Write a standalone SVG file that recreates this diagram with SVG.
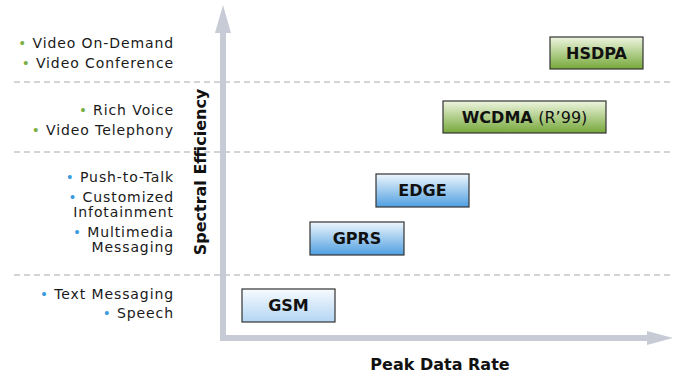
<svg xmlns="http://www.w3.org/2000/svg" width="674" height="377" viewBox="0 0 674 377">
  <style>
    .lbl { font-family: "DejaVu Sans", "Liberation Sans", sans-serif; font-size: 14px; letter-spacing: 0.9px; fill: #1a1a1a; text-anchor: end; }
    .dg { fill: #78b043; font-size: 13.5px; }
    .db { fill: #3b9be0; font-size: 13.5px; }
    .box { stroke: #333; stroke-width: 1.2; }
    .btxt { font-family: "DejaVu Sans", "Liberation Sans", sans-serif; font-size: 16px; font-weight: bold; fill: #111; text-anchor: middle; }
    .norm { font-weight: normal; }
    .axis-title { font-family: "DejaVu Sans", "Liberation Sans", sans-serif; font-size: 16px; font-weight: bold; fill: #111; text-anchor: middle; }
    .dash { stroke: #c3c6cc; stroke-width: 1.5; stroke-dasharray: 6 4; fill: none; }
    .axis { fill: #c6cbd6; }
  </style>
  <defs>
    <linearGradient id="green" x1="0" y1="0" x2="0" y2="1">
      <stop offset="0" stop-color="#eef5df"/>
      <stop offset="1" stop-color="#76a83a"/>
    </linearGradient>
    <linearGradient id="blue" x1="0" y1="0" x2="0" y2="1">
      <stop offset="0" stop-color="#eef6fd"/>
      <stop offset="1" stop-color="#4f9fe0"/>
    </linearGradient>
    <linearGradient id="paleblue" x1="0" y1="0" x2="0" y2="1">
      <stop offset="0" stop-color="#f7fbff"/>
      <stop offset="1" stop-color="#b3d5f3"/>
    </linearGradient>
  </defs>

  <!-- band separators -->
  <g id="separators">
    <line class="dash" x1="14" y1="82" x2="670" y2="82"/>
    <line class="dash" x1="14" y1="152" x2="670" y2="152"/>
    <line class="dash" x1="14" y1="275" x2="670" y2="275"/>
  </g>

  <!-- axes -->
  <g id="axes">
    <rect class="axis" x="220" y="32" width="6" height="309"/>
    <polygon class="axis" points="223,5 231,33 215,33"/>
    <rect class="axis" x="220" y="335" width="428" height="6"/>
    <polygon class="axis" points="673,338 647,331 647,345"/>
    <text class="axis-title" transform="translate(206,172) rotate(-90)">Spectral Efficiency</text>
    <text class="axis-title" x="440" y="370">Peak Data Rate</text>
  </g>

  <!-- service lists -->
  <g id="services-3g">
    <text class="lbl" x="174" y="48"><tspan class="dg">•</tspan> Video On-Demand</text>
    <text class="lbl" x="174" y="68"><tspan class="dg">•</tspan> Video Conference</text>
    <text class="lbl" x="174" y="115"><tspan class="dg">•</tspan> Rich Voice</text>
    <text class="lbl" x="174" y="135"><tspan class="dg">•</tspan> Video Telephony</text>
  </g>
  <g id="services-25g">
    <text class="lbl" x="174" y="182"><tspan class="db">•</tspan> Push-to-Talk</text>
    <text class="lbl" x="174" y="202"><tspan class="db">•</tspan> Customized</text>
    <text class="lbl" x="174" y="217">Infotainment</text>
    <text class="lbl" x="174" y="237"><tspan class="db">•</tspan> Multimedia</text>
    <text class="lbl" x="174" y="252">Messaging</text>
  </g>
  <g id="services-2g">
    <text class="lbl" x="174" y="299"><tspan class="db">•</tspan> Text Messaging</text>
    <text class="lbl" x="174" y="318"><tspan class="db">•</tspan> Speech</text>
  </g>

  <!-- technology nodes -->
  <g id="hsdpa">
    <rect class="box" x="550" y="37" width="93" height="32" fill="url(#green)"/>
    <text class="btxt" x="596.5" y="59">HSDPA</text>
  </g>
  <g id="wcdma">
    <rect class="box" x="443" y="101" width="163" height="32" fill="url(#green)"/>
    <text class="btxt" x="524.5" y="123">WCDMA <tspan class="norm">(R’99)</tspan></text>
  </g>
  <g id="edge">
    <rect class="box" x="376" y="174" width="93" height="33" fill="url(#blue)"/>
    <text class="btxt" x="422.5" y="196">EDGE</text>
  </g>
  <g id="gprs">
    <rect class="box" x="310" y="222" width="94" height="33" fill="url(#blue)"/>
    <text class="btxt" x="357" y="244">GPRS</text>
  </g>
  <g id="gsm">
    <rect class="box" x="242" y="289" width="93" height="33" fill="url(#paleblue)"/>
    <text class="btxt" x="288.5" y="311">GSM</text>
  </g>
</svg>
